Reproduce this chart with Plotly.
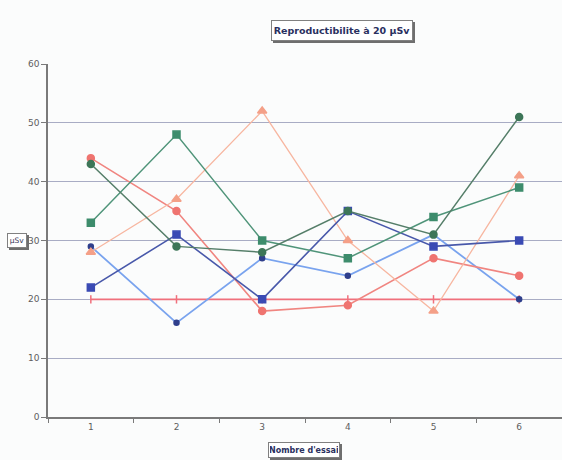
import plotly.graph_objects as go

# Trial numbers and dose readings (µSv) for each measurement series
essais = ["1", "2", "3", "4", "5", "6"]
serie_vert_fonce = [43, 29, 28, 35, 31, 51]
serie_vert = [33, 48, 30, 27, 34, 39]
serie_orange = [28, 37, 52, 30, 18, 41]
serie_corail = [44, 35, 18, 19, 27, 24]
serie_bleu_fonce = [22, 31, 20, 35, 29, 30]
serie_bleu_clair = [29, 16, 27, 24, 31, 20]
reference = [20, 20, 20, 20, 20, 20]

y_ticks = [0, 10, 20, 30, 40, 50, 60]

styles = [
    (reference, "#f0707c", "#f0707c", "line-ns", 6, 1.6),
    (serie_bleu_clair, "#79a3ee", "#2f3f8c", "circle", 5, 1.8),
    (serie_corail, "#f08580", "#ef7470", "circle", 7, 1.6),
    (serie_orange, "#f7b6a0", "#f4a088", "triangle-up", 8, 1.3),
    (serie_bleu_fonce, "#4858aa", "#3a4ab4", "square", 7, 1.6),
    (serie_vert, "#4f9479", "#3d8c6c", "square", 7, 1.5),
    (serie_vert_fonce, "#557e69", "#3d7658", "circle", 7, 1.5),
]

fig = go.Figure()
for values, line_col, mark_col, symbol, size, width in styles:
    fig.add_trace(go.Scatter(
        x=essais, y=values, mode="lines+markers",
        line=dict(color=line_col, width=width),
        marker=dict(symbol=symbol, size=size, color=mark_col,
                    line=dict(color=mark_col, width=1.5)),
        showlegend=False,
    ))

label_font = dict(family="DejaVu Sans", size=9, color="#5e5e5e")
box_font = dict(family="DejaVu Sans", size=9.5, color="#2a3060")


def boxed(text, x, y, font, w, h, xshift=0, yshift=0, pad=2):
    # drop shadow first (empty box of the same size), then the framed label
    common = dict(x=x, y=y, xref="paper", yref="paper", showarrow=False,
                  xanchor="center", yanchor="middle", width=w, height=h,
                  borderpad=pad, borderwidth=1)
    fig.add_annotation(text=" ", bgcolor="#6e6e6e", bordercolor="#6e6e6e",
                       xshift=xshift + 2, yshift=yshift - 2, **common)
    fig.add_annotation(text=text, font=font, bgcolor="#ffffff",
                       bordercolor="#808080", xshift=xshift, yshift=yshift,
                       **common)


boxed("<b>Reproductibilite à 20 µSv</b>", 0.572, 1.0, box_font, 136, 15,
      yshift=34)
boxed("<b>Nombre d'essai</b>", 0.5, 0.0, dict(box_font, size=8), 68, 12,
      xshift=-1, yshift=-33, pad=1)
boxed("µSv", 0.0, 0.5, dict(label_font, size=7.5, color="#3a3a5a"), 16, 11,
      xshift=-31, pad=1)

fig.update_xaxes(
    type="category", range=[-0.5, 5.5], tickson="boundaries",
    ticks="outside", ticklen=4, tickcolor="#7a7a7a",
    showline=True, linecolor="#7a7a7a", linewidth=1.5,
    showgrid=False, tickfont=label_font, zeroline=False,
)
fig.update_yaxes(
    range=[0, 60], tickvals=y_ticks, ticks="outside", ticklen=5,
    tickcolor="#7a7a7a", showline=True, linecolor="#7a7a7a", linewidth=1.5,
    showgrid=True, gridcolor="#a8acc4", gridwidth=1, zeroline=False,
    tickfont=label_font,
)

fig.update_layout(
    width=562, height=460,
    margin=dict(l=48, r=0, t=64, b=43),
    paper_bgcolor="#fbfcfc", plot_bgcolor="#fbfcfc",
)

fig.write_html("out.html")
